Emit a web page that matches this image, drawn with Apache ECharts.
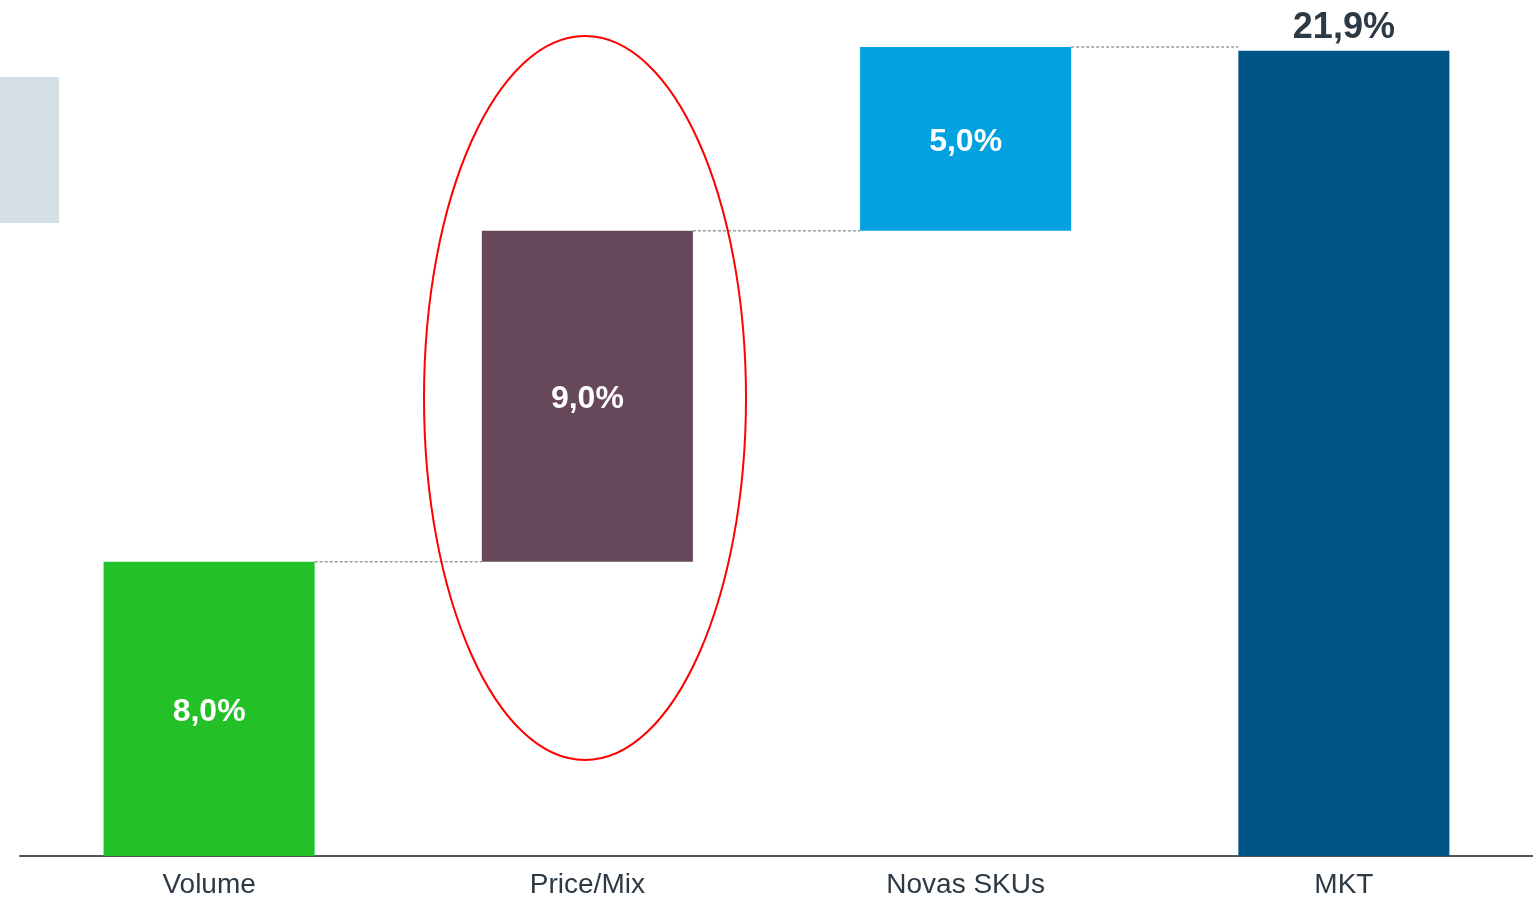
<!DOCTYPE html>
<html>
<head>
<meta charset="utf-8">
<script src="https://cdn.jsdelivr.net/npm/echarts@6/dist/echarts.min.js"></script>
<style>html,body{margin:0;padding:0;background:#fff}#c{width:1533px;height:899px}</style>
</head>
<body>
<div id="c"></div>
<script>
const categories = ['Volume', 'Price/Mix', 'Novas SKUs', 'MKT'];
const deltas = [8.0, 9.0, 5.0];
const total = 21.9;
const labels = ['8,0%', '9,0%', '5,0%', '21,9%'];
const colors = ['#23c127', '#67475a', '#02a2e0', '#005587'];

const bases = [];
const values = [];
let run = 0;
deltas.forEach(d => { bases.push(run); values.push(d); run += d; });
bases.push(0); values.push(total);
const tops = [];
{ let r = 0; deltas.forEach(d => { r += d; tops.push(r); }); }

const FONT = '"Liberation Sans", Arial, sans-serif';
const BAR_FRAC = 0.558;

const chart = echarts.init(document.getElementById('c'), null, {renderer: 'canvas'});
chart.setOption({
  animation: false,
  grid: {left: 20, right: 0, top: 47, bottom: 42},
  xAxis: {
    type: 'category', data: categories,
    axisLine: {lineStyle: {color: '#4d5761', width: 2}},
    axisTick: {show: false},
    axisLabel: {color: '#2d3a45', fontSize: 28, fontFamily: FONT, margin: 15}
  },
  yAxis: {type: 'value', min: 0, max: 22, show: false, splitLine: {show: false}},
  graphic: [
    {type: 'rect', shape: {x: 0, y: 77, width: 59, height: 146}, style: {fill: '#d3dfe4'}, z: 0},
    {type: 'ellipse', shape: {cx: 585, cy: 398, rx: 161, ry: 362}, style: {fill: 'none', stroke: '#ff0000', lineWidth: 2}, z: 100}
  ],
  series: [
    {
      type: 'bar', stack: 'w', barWidth: (BAR_FRAC * 100) + '%',
      itemStyle: {color: 'transparent'}, silent: true,
      data: bases
    },
    {
      type: 'bar', stack: 'w', barWidth: (BAR_FRAC * 100) + '%',
      data: values.map((v, i) => ({
        value: v,
        itemStyle: {color: colors[i]},
        label: i === 3 ? {
          show: true, position: 'top', distance: 5, formatter: labels[i],
          color: '#2d3a45', fontSize: 36, fontWeight: 'bold', fontFamily: FONT
        } : {
          show: true, position: 'inside', formatter: labels[i], offset: [0, 3],
          color: '#ffffff', fontSize: 32, fontWeight: 'bold', fontFamily: FONT
        }
      }))
    },
    {
      type: 'custom', z: 5, silent: true,
      data: tops.map((t, i) => [i, t]),
      renderItem: function (params, api) {
        const i = api.value(0);
        const p0 = api.coord([i, api.value(1)]);
        const p1 = api.coord([i + 1, api.value(1)]);
        const band = api.size([1, 0])[0];
        const half = band * BAR_FRAC / 2;
        return {
          type: 'line',
          shape: {x1: p0[0] + half, y1: p0[1], x2: p1[0] - half, y2: p1[1]},
          style: {stroke: '#5f6b75', lineWidth: 1, lineDash: [3, 2]}
        };
      }
    }
  ]
});
</script>
</body>
</html>
